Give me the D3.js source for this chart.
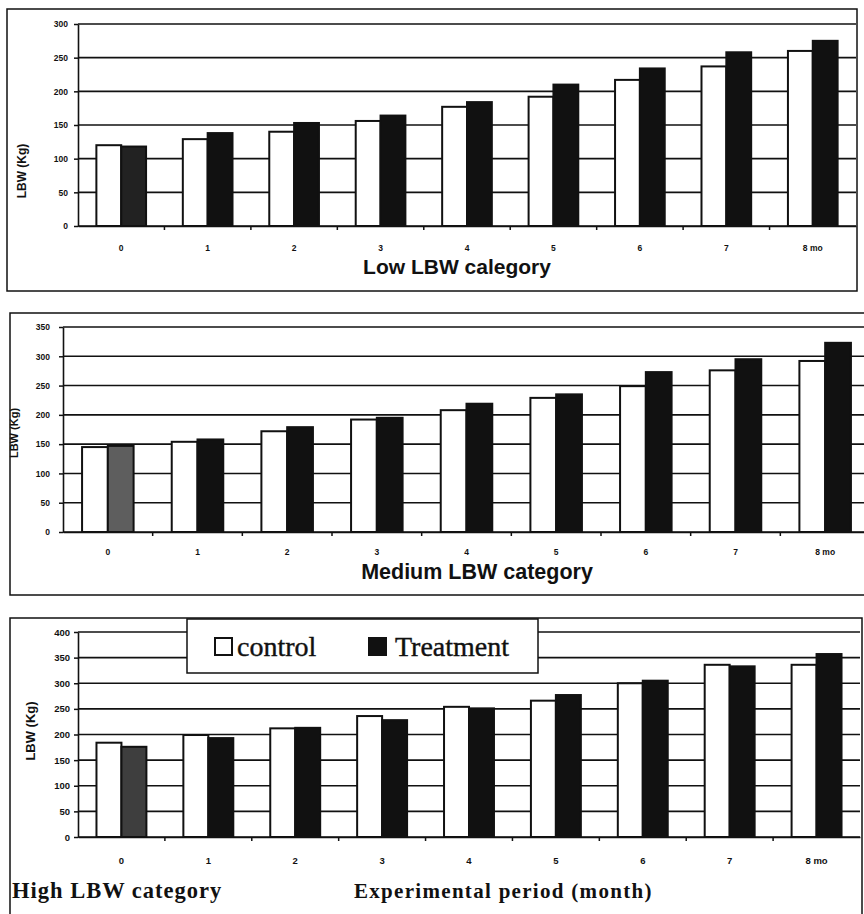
<!DOCTYPE html>
<html>
<head>
<meta charset="utf-8">
<script src="https://cdn.jsdelivr.net/npm/d3@7"></script>
<style>
  body { margin: 0; background: #fff; }
  svg { display: block; }
  .tick text { font-family: "Liberation Sans", Arial, sans-serif; font-weight: bold; }
</style>
</head>
<body>
<div id="chart"></div>
<script>
// months on the x axis
var months = ["0", "1", "2", "3", "4", "5", "6", "7", "8 mo"];

// live body weight (Kg)
var lowControl    = [120, 129, 140, 156, 177, 192, 217, 237, 260];
var lowTreatment  = [118, 138, 153, 164, 184, 210, 234, 258, 275];
var medControl    = [145, 154, 172, 192, 208, 229, 249, 276, 292];
var medTreatment  = [147, 158, 179, 195, 219, 235, 273, 295, 323];
var highControl   = [184, 199, 212, 236, 254, 266, 300, 336, 336];
var highTreatment = [176, 193, 213, 228, 251, 277, 305, 333, 357];

// y tick values for each panel
var lowTicks  = [0, 50, 100, 150, 200, 250, 300];
var medTicks  = [0, 50, 100, 150, 200, 250, 300, 350];
var highTicks = [0, 50, 100, 150, 200, 250, 300, 350, 400];

var seriesNames = ["control", "Treatment"];

var W = 864, H = 914;
var sans = "'Liberation Sans', Arial, sans-serif";
var serif = "'Liberation Serif', 'Times New Roman', serif";

var svg = d3.select("#chart")
  .append("svg")
  .attr("width", W)
  .attr("height", H);

// panel layout
var panels = [
  { control: lowControl, treatment: lowTreatment, ticks: lowTicks,
    frame: [7, 9, 857, 291], left: 78, right: 856, bottom: 226, top: 24,
    tickPad: 10, tickFont: 8.5, catY: 251,
    ylab: { x: 23, y: 171, size: 12 },
    firstShade: "#222",
    title: { text: "Low LBW calegory", x: 457, y: 274, size: 21 } },
  { control: medControl, treatment: medTreatment, ticks: medTicks,
    frame: [10, 313, 872, 595], left: 63, right: 870, bottom: 532, top: 327,
    tickPad: 13, tickFont: 8.5, catY: 555,
    ylab: { x: 15, y: 433, size: 11 },
    firstShade: "#5e5e5e",
    title: { text: "Medium LBW category", x: 477, y: 579, size: 21.5 } },
  { control: highControl, treatment: highTreatment, ticks: highTicks,
    frame: [10, 618, 862, 940], left: 78, right: 860, bottom: 837, top: 632,
    tickPad: 8, tickFont: 9.5, catY: 863,
    ylab: { x: 32, y: 731, size: 13 },
    firstShade: "#3e3e3e",
    title: null }
];

panels.forEach(function(p) {
  var g = svg.append("g");

  // outer frame
  g.append("rect")
    .attr("x", p.frame[0]).attr("y", p.frame[1])
    .attr("width", p.frame[2] - p.frame[0])
    .attr("height", p.frame[3] - p.frame[1])
    .attr("fill", "none")
    .attr("stroke", "#111")
    .attr("stroke-width", 1.5);

  var x = d3.scaleBand()
    .domain(months)
    .range([p.left, p.right])
    .padding(0);

  var x1 = d3.scaleBand()
    .domain(seriesNames)
    .range([0, x.bandwidth()])
    .paddingInner(0)
    .paddingOuter(0.74);

  var y = d3.scaleLinear()
    .domain([0, d3.max(p.ticks)])
    .range([p.bottom, p.top]);

  // gridlines
  g.append("g")
    .selectAll("line")
    .data(p.ticks)
    .enter()
    .append("line")
    .attr("x1", p.left)
    .attr("x2", p.right)
    .attr("y1", function(d) { return y(d); })
    .attr("y2", function(d) { return y(d); })
    .attr("stroke", "#111")
    .attr("stroke-width", 1.6);

  // y axis
  var yAxis = g.append("g")
    .attr("transform", "translate(" + p.left + ",0)")
    .call(d3.axisLeft(y).tickValues(p.ticks).tickSize(4).tickPadding(p.tickPad - 4).tickSizeOuter(0));
  yAxis.select(".domain").attr("stroke", "#111").attr("stroke-width", 1.6);
  yAxis.selectAll(".tick line").attr("stroke", "#111").attr("stroke-width", 1.5);
  yAxis.selectAll(".tick text").attr("font-size", p.tickFont).attr("fill", "#111");

  // x axis: ticks at band edges, labels at band centres
  var xAxis = g.append("g")
    .attr("transform", "translate(0," + p.bottom + ")")
    .call(d3.axisBottom(x).tickSize(0).tickPadding(p.catY - p.bottom - 6));
  xAxis.select(".domain").attr("stroke", "#111").attr("stroke-width", 1.6);
  xAxis.selectAll(".tick text").attr("font-size", p.tickFont).attr("fill", "#111");

  g.append("g")
    .selectAll("line")
    .data(months.slice(1))
    .enter()
    .append("line")
    .attr("x1", function(d) { return x(d); })
    .attr("x2", function(d) { return x(d); })
    .attr("y1", p.bottom)
    .attr("y2", p.bottom + 4)
    .attr("stroke", "#111")
    .attr("stroke-width", 1.5);

  // bars
  var rows = months.map(function(m, i) {
    return { month: m, i: i, values: [p.control[i], p.treatment[i]] };
  });

  var groups = g.append("g")
    .selectAll("g")
    .data(rows)
    .enter()
    .append("g")
    .attr("transform", function(d) { return "translate(" + x(d.month) + ",0)"; });

  groups.selectAll("rect")
    .data(function(d) {
      return seriesNames.map(function(s, k) { return { series: s, value: d.values[k], i: d.i }; });
    })
    .enter()
    .append("rect")
    .attr("x", function(d) { return x1(d.series); })
    .attr("y", function(d) { return y(d.value); })
    .attr("width", x1.bandwidth())
    .attr("height", function(d) { return p.bottom - y(d.value); })
    .attr("fill", function(d) {
      if (d.series === "control") return "#fff";
      return d.i === 0 ? p.firstShade : "#111";
    })
    .attr("stroke", "#111")
    .attr("stroke-width", 2);

  // y axis title
  g.append("text")
    .attr("transform", "translate(" + p.ylab.x + "," + p.ylab.y + ") rotate(-90)")
    .attr("text-anchor", "middle")
    .attr("dominant-baseline", "middle")
    .attr("font-family", sans)
    .attr("font-weight", "bold")
    .attr("font-size", p.ylab.size)
    .attr("fill", "#111")
    .text("LBW (Kg)");

  // panel title
  if (p.title) {
    g.append("text")
      .attr("x", p.title.x)
      .attr("y", p.title.y)
      .attr("text-anchor", "middle")
      .attr("font-family", sans)
      .attr("font-weight", "bold")
      .attr("font-size", p.title.size)
      .attr("fill", "#111")
      .text(p.title.text);
  }
});

// legend in the bottom panel
var leg = svg.append("g");
leg.append("rect")
  .attr("x", 187).attr("y", 619)
  .attr("width", 351).attr("height", 54)
  .attr("fill", "#fff")
  .attr("stroke", "#111")
  .attr("stroke-width", 1.5);

var legItems = [
  { name: seriesNames[0], fill: "#fff", sx: 215, tx: 237 },
  { name: seriesNames[1], fill: "#111", sx: 369, tx: 395 }
];

leg.selectAll("rect.key")
  .data(legItems)
  .enter()
  .append("rect")
  .attr("class", "key")
  .attr("x", function(d) { return d.sx; })
  .attr("y", 638)
  .attr("width", 17)
  .attr("height", 17)
  .attr("fill", function(d) { return d.fill; })
  .attr("stroke", "#111")
  .attr("stroke-width", 2);

leg.selectAll("text")
  .data(legItems)
  .enter()
  .append("text")
  .attr("x", function(d) { return d.tx; })
  .attr("y", 656)
  .attr("font-family", serif)
  .attr("font-size", 28)
  .attr("fill", "#111")
  .attr("stroke", "#111")
  .attr("stroke-width", 0.4)
  .text(function(d) { return d.name; });

// bottom captions
svg.append("text")
  .attr("x", 12)
  .attr("y", 898)
  .attr("font-family", serif)
  .attr("font-weight", "bold")
  .attr("font-size", 22.5)
  .attr("letter-spacing", 1)
  .attr("fill", "#111")
  .text("High LBW category");

svg.append("text")
  .attr("x", 354)
  .attr("y", 898)
  .attr("font-family", serif)
  .attr("font-weight", "bold")
  .attr("font-size", 21)
  .attr("letter-spacing", 1.3)
  .attr("fill", "#111")
  .text("Experimental period (month)");
</script>
</body>
</html>
